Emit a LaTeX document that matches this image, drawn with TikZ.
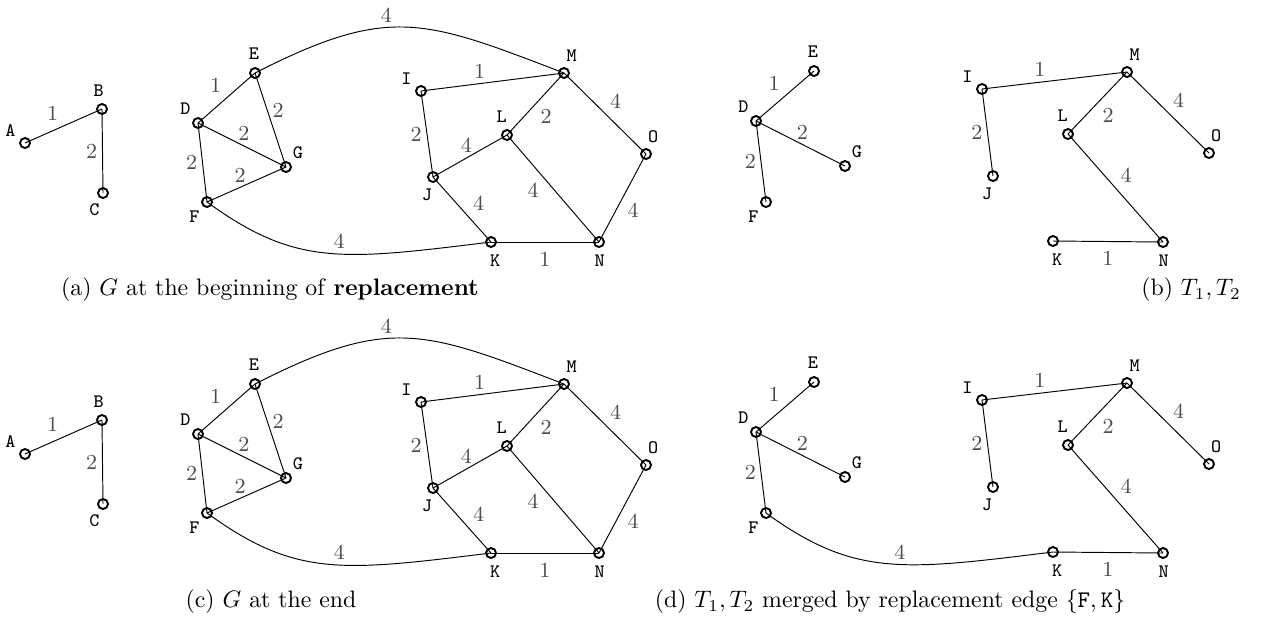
\documentclass[tikz,border=0pt]{standalone}
\usepackage{amsmath}
\usetikzlibrary{positioning}

\tikzset{
  vertex/.style={circle,draw,line width=0.8pt,minimum size=4.2pt,inner sep=0pt},
  vname/.style={font=\ttfamily\footnotesize,inner sep=0pt},
  tag/.style 2 args={label={[vname,shift={(#1:19)}]center:#2}},
  weight/.style={font=\small,text=black!70,inner sep=2pt},
  subcap/.style={font=\normalsize,inner sep=0pt}
}

% whole graph G, #1 = name prefix
\newcommand{\wholegraph}[1]{%
  \node[vertex,tag={140}{A}] (#1A) at (25,-143) {};
  \node[vertex,tag={100}{B}] (#1B) at (102,-109) {};
  \node[vertex,tag={243}{C}] (#1C) at (103,-193) {};
  \node[vertex,tag={131}{D}] (#1D) at (198,-123) {};
  \node[vertex,tag={93}{E}] (#1E) at (255,-73) {};
  \node[vertex,tag={229}{F}] (#1F) at (207,-202) {};
  \node[vertex,tag={51}{G}] (#1G) at (286,-167) {};
  \node[vertex,tag={140}{I}] (#1I) at (421,-91) {};
  \node[vertex,tag={252}{J}] (#1J) at (433,-177) {};
  \node[vertex,tag={283}{K}] (#1K) at (491,-242) {};
  \node[vertex,tag={106}{L}] (#1L) at (507,-135) {};
  \node[vertex,tag={66}{M}] (#1M) at (564,-73) {};
  \node[vertex,tag={272}{N}] (#1N) at (599,-242) {};
  \node[vertex,tag={68}{O}] (#1O) at (646,-154) {};
  % edges
  \draw (#1A.center) -- node[weight,above left] {1} (#1B.center);
  \draw (#1B.center) -- node[weight,left] {2} (#1C.center);
  \draw (#1D.center) -- node[weight,above left] {1} (#1E.center);
  \draw (#1E.center) -- node[weight,pos=0.4,right] {2} (#1G.center);
  \draw (#1D.center) -- node[weight,pos=0.52,above] {2} (#1G.center);
  \draw (#1D.center) -- node[weight,left] {2} (#1F.center);
  \draw (#1F.center) -- node[weight,pos=0.42,above] {2} (#1G.center);
  \draw (#1E.center) to[out=27,in=159,looseness=1.25] node[weight,pos=0.42,above] {4} (#1M.center);
  \draw (#1F.center) .. controls +(-36:110) and +(187:150) .. node[weight,pos=0.55,above] {4} (#1K.center);
  \draw (#1I.center) -- node[weight,pos=0.41,above] {1} (#1M.center);
  \draw (#1I.center) -- node[weight,left] {2} (#1J.center);
  \draw (#1J.center) -- node[weight,pos=0.45,above] {4} (#1L.center);
  \draw (#1L.center) -- node[weight,below right] {2} (#1M.center);
  \draw (#1M.center) -- node[weight,above right] {4} (#1O.center);
  \draw (#1L.center) -- node[weight,pos=0.4,below left] {4} (#1N.center);
  \draw (#1J.center) -- node[weight,pos=0.6,above right] {4} (#1K.center);
  \draw (#1K.center) -- node[weight,below=2pt] {1} (#1N.center);
  \draw (#1O.center) -- node[weight,below right] {4} (#1N.center);
}

% the two trees T1, T2, #1 = name prefix
\newcommand{\twotrees}[1]{%
  \node[vertex,tag={131}{D}] (#1D) at (756,-121) {};
  \node[vertex,tag={93}{E}] (#1E) at (814,-71) {};
  \node[vertex,tag={229}{F}] (#1F) at (766,-202) {};
  \node[vertex,tag={51}{G}] (#1G) at (845,-166) {};
  \node[vertex,tag={140}{I}] (#1I) at (982,-89) {};
  \node[vertex,tag={252}{J}] (#1J) at (993,-176) {};
  \node[vertex,tag={283}{K}] (#1K) at (1053,-241) {};
  \node[vertex,tag={106}{L}] (#1L) at (1068,-134) {};
  \node[vertex,tag={66}{M}] (#1M) at (1127,-72) {};
  \node[vertex,tag={272}{N}] (#1N) at (1163,-242) {};
  \node[vertex,tag={68}{O}] (#1O) at (1209,-153) {};
  % edges
  \draw (#1D.center) -- node[weight,above left] {1} (#1E.center);
  \draw (#1D.center) -- node[weight,pos=0.52,above] {2} (#1G.center);
  \draw (#1D.center) -- node[weight,left] {2} (#1F.center);
  \draw (#1I.center) -- node[weight,pos=0.4,above] {1} (#1M.center);
  \draw (#1I.center) -- node[weight,left] {2} (#1J.center);
  \draw (#1L.center) -- node[weight,below right] {2} (#1M.center);
  \draw (#1M.center) -- node[weight,above right] {4} (#1O.center);
  \draw (#1L.center) -- node[weight,above right] {4} (#1N.center);
  \draw (#1K.center) -- node[weight,below=2pt] {1} (#1N.center);
}

\begin{document}
\begin{tikzpicture}[x=0.42pt,y=0.42pt]
  \useasboundingbox (0,0) rectangle (1276,-627);

  % (a) G at the beginning
  \wholegraph{a}
  \node[subcap] (capa) at (270,-290) {(a) $G$ at the beginning of \textbf{replacement}};

  % (b) T1, T2
  \twotrees{b}
  \node[subcap] (capb) at (1191,-290) {(b) $T_1, T_2$};

  % (c) G at the end
  \begin{scope}[shift={(0,-311)}]
    \wholegraph{c}
    \node[subcap] (capc) at (271,-291) {(c) $G$ at the end};
  \end{scope}

  % (d) merged trees
  \begin{scope}[shift={(0,-311)}]
    \twotrees{d}
    \draw (dF.center) .. controls +(-36:110) and +(187:150) .. node[weight,pos=0.55,above] {4} (dK.center);
    \node[subcap] (capd) at (890,-291) {(d) $T_1, T_2$ merged by replacement edge $\{\mathtt{F},\mathtt{K}\}$};
  \end{scope}
\end{tikzpicture}
\end{document}
